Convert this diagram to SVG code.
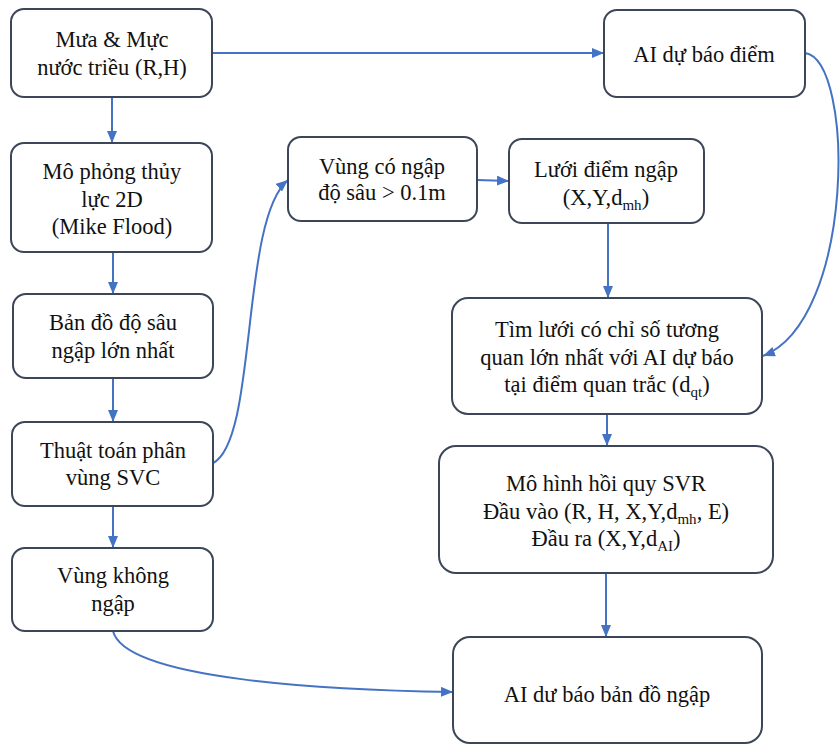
<svg xmlns="http://www.w3.org/2000/svg" width="840" height="744" viewBox="0 0 840 744">
  <style>
    .box { fill: #ffffff; stroke: #3b4658; stroke-width: 2; }
    .lbl { font-family: 'Liberation Serif', 'Times New Roman', serif; font-size: 22.5px; fill: #111111; text-anchor: middle; }
    .sub { font-size: 15px; }
    .con { fill: none; stroke: #4472c4; stroke-width: 2; }
  </style>
  <defs>
    <marker id="arrow" viewBox="0 0 12 10" refX="12" refY="5" markerWidth="12" markerHeight="10" markerUnits="userSpaceOnUse" orient="auto">
      <path d="M0,0 L12,5 L0,10 Z" fill="#4472c4"/>
    </marker>
  </defs>
  <rect width="840" height="744" fill="#ffffff"/>

  <!-- flow connectors -->
  <g id="connectors">
    <line class="con" x1="112" y1="97" x2="112" y2="143" marker-end="url(#arrow)"/>
    <line class="con" x1="113" y1="252" x2="113" y2="294" marker-end="url(#arrow)"/>
    <line class="con" x1="113" y1="378" x2="113" y2="422" marker-end="url(#arrow)"/>
    <line class="con" x1="113" y1="506" x2="113" y2="548" marker-end="url(#arrow)"/>
    <line class="con" x1="212" y1="53" x2="604" y2="53" marker-end="url(#arrow)"/>
    <path class="con" d="M213,463 C258,440 240,220 288,180" marker-end="url(#arrow)"/>
    <line class="con" x1="477" y1="180" x2="509" y2="181" marker-end="url(#arrow)"/>
    <line class="con" x1="608" y1="223" x2="608" y2="298" marker-end="url(#arrow)"/>
    <path class="con" d="M805,53 C855,60 855,320 763,356" marker-end="url(#arrow)"/>
    <line class="con" x1="607" y1="414" x2="607" y2="446" marker-end="url(#arrow)"/>
    <line class="con" x1="606" y1="573" x2="606" y2="637" marker-end="url(#arrow)"/>
    <path class="con" d="M113,631 C125,680 330,690 453,692" marker-end="url(#arrow)"/>
  </g>

  <g id="rain-tide">
    <rect class="box" x="11" y="9" width="201" height="88" rx="13"/>
    <text class="lbl" x="112" y="47">Mưa &amp; Mực</text>
    <text class="lbl" x="112" y="75">nước triều (R,H)</text>
  </g>

  <g id="hydraulic-sim">
    <rect class="box" x="11" y="143" width="201" height="109" rx="13"/>
    <text class="lbl" x="112" y="179">Mô phỏng thủy</text>
    <text class="lbl" x="112" y="207">lực 2D</text>
    <text class="lbl" x="112" y="234">(Mike Flood)</text>
  </g>

  <g id="max-depth-map">
    <rect class="box" x="13" y="294" width="200" height="84" rx="13"/>
    <text class="lbl" x="113" y="330">Bản đồ độ sâu</text>
    <text class="lbl" x="113" y="358">ngập lớn nhất</text>
  </g>

  <g id="svc-zoning">
    <rect class="box" x="12" y="422" width="201" height="84" rx="13"/>
    <text class="lbl" x="113" y="458">Thuật toán phân</text>
    <text class="lbl" x="113" y="485">vùng SVC</text>
  </g>

  <g id="dry-zone">
    <rect class="box" x="12" y="548" width="201" height="83" rx="13"/>
    <text class="lbl" x="113" y="583">Vùng không</text>
    <text class="lbl" x="113" y="611">ngập</text>
  </g>

  <g id="flooded-zone">
    <rect class="box" x="288" y="137" width="189" height="84" rx="13"/>
    <text class="lbl" x="382" y="174">Vùng có ngập</text>
    <text class="lbl" x="382" y="200">độ sâu &gt; 0.1m</text>
  </g>

  <g id="flood-grid">
    <rect class="box" x="509" y="139" width="195" height="84" rx="13"/>
    <text class="lbl" x="606" y="177">Lưới điểm ngập</text>
    <text class="lbl" x="606" y="205">(X,Y,d<tspan class="sub" dy="5">mh</tspan><tspan dy="-5">)</tspan></text>
  </g>

  <g id="ai-point-forecast">
    <rect class="box" x="604" y="10" width="201" height="87" rx="13"/>
    <text class="lbl" x="704" y="62">AI dự báo điểm</text>
  </g>

  <g id="correlation-search">
    <rect class="box" x="452" y="298" width="310" height="116" rx="16"/>
    <text class="lbl" x="607" y="337">Tìm lưới có chỉ số tương</text>
    <text class="lbl" x="607" y="365">quan lớn nhất với AI dự báo</text>
    <text class="lbl" x="607" y="392">tại điểm quan trắc (d<tspan class="sub" dy="5">qt</tspan><tspan dy="-5">)</tspan></text>
  </g>

  <g id="svr-model">
    <rect class="box" x="439" y="446" width="334" height="127" rx="17"/>
    <text class="lbl" x="606" y="491">Mô hình hồi quy SVR</text>
    <text class="lbl" x="606" y="519">Đầu vào (R, H, X,Y,d<tspan class="sub" dy="5">mh</tspan><tspan dy="-5">, E)</tspan></text>
    <text class="lbl" x="606" y="546">Đầu ra (X,Y,d<tspan class="sub" dy="5">AI</tspan><tspan dy="-5">)</tspan></text>
  </g>

  <g id="ai-flood-map">
    <rect class="box" x="453" y="637" width="309" height="106" rx="17"/>
    <text class="lbl" x="607" y="702">AI dư báo bản đồ ngập</text>
  </g>
</svg>
